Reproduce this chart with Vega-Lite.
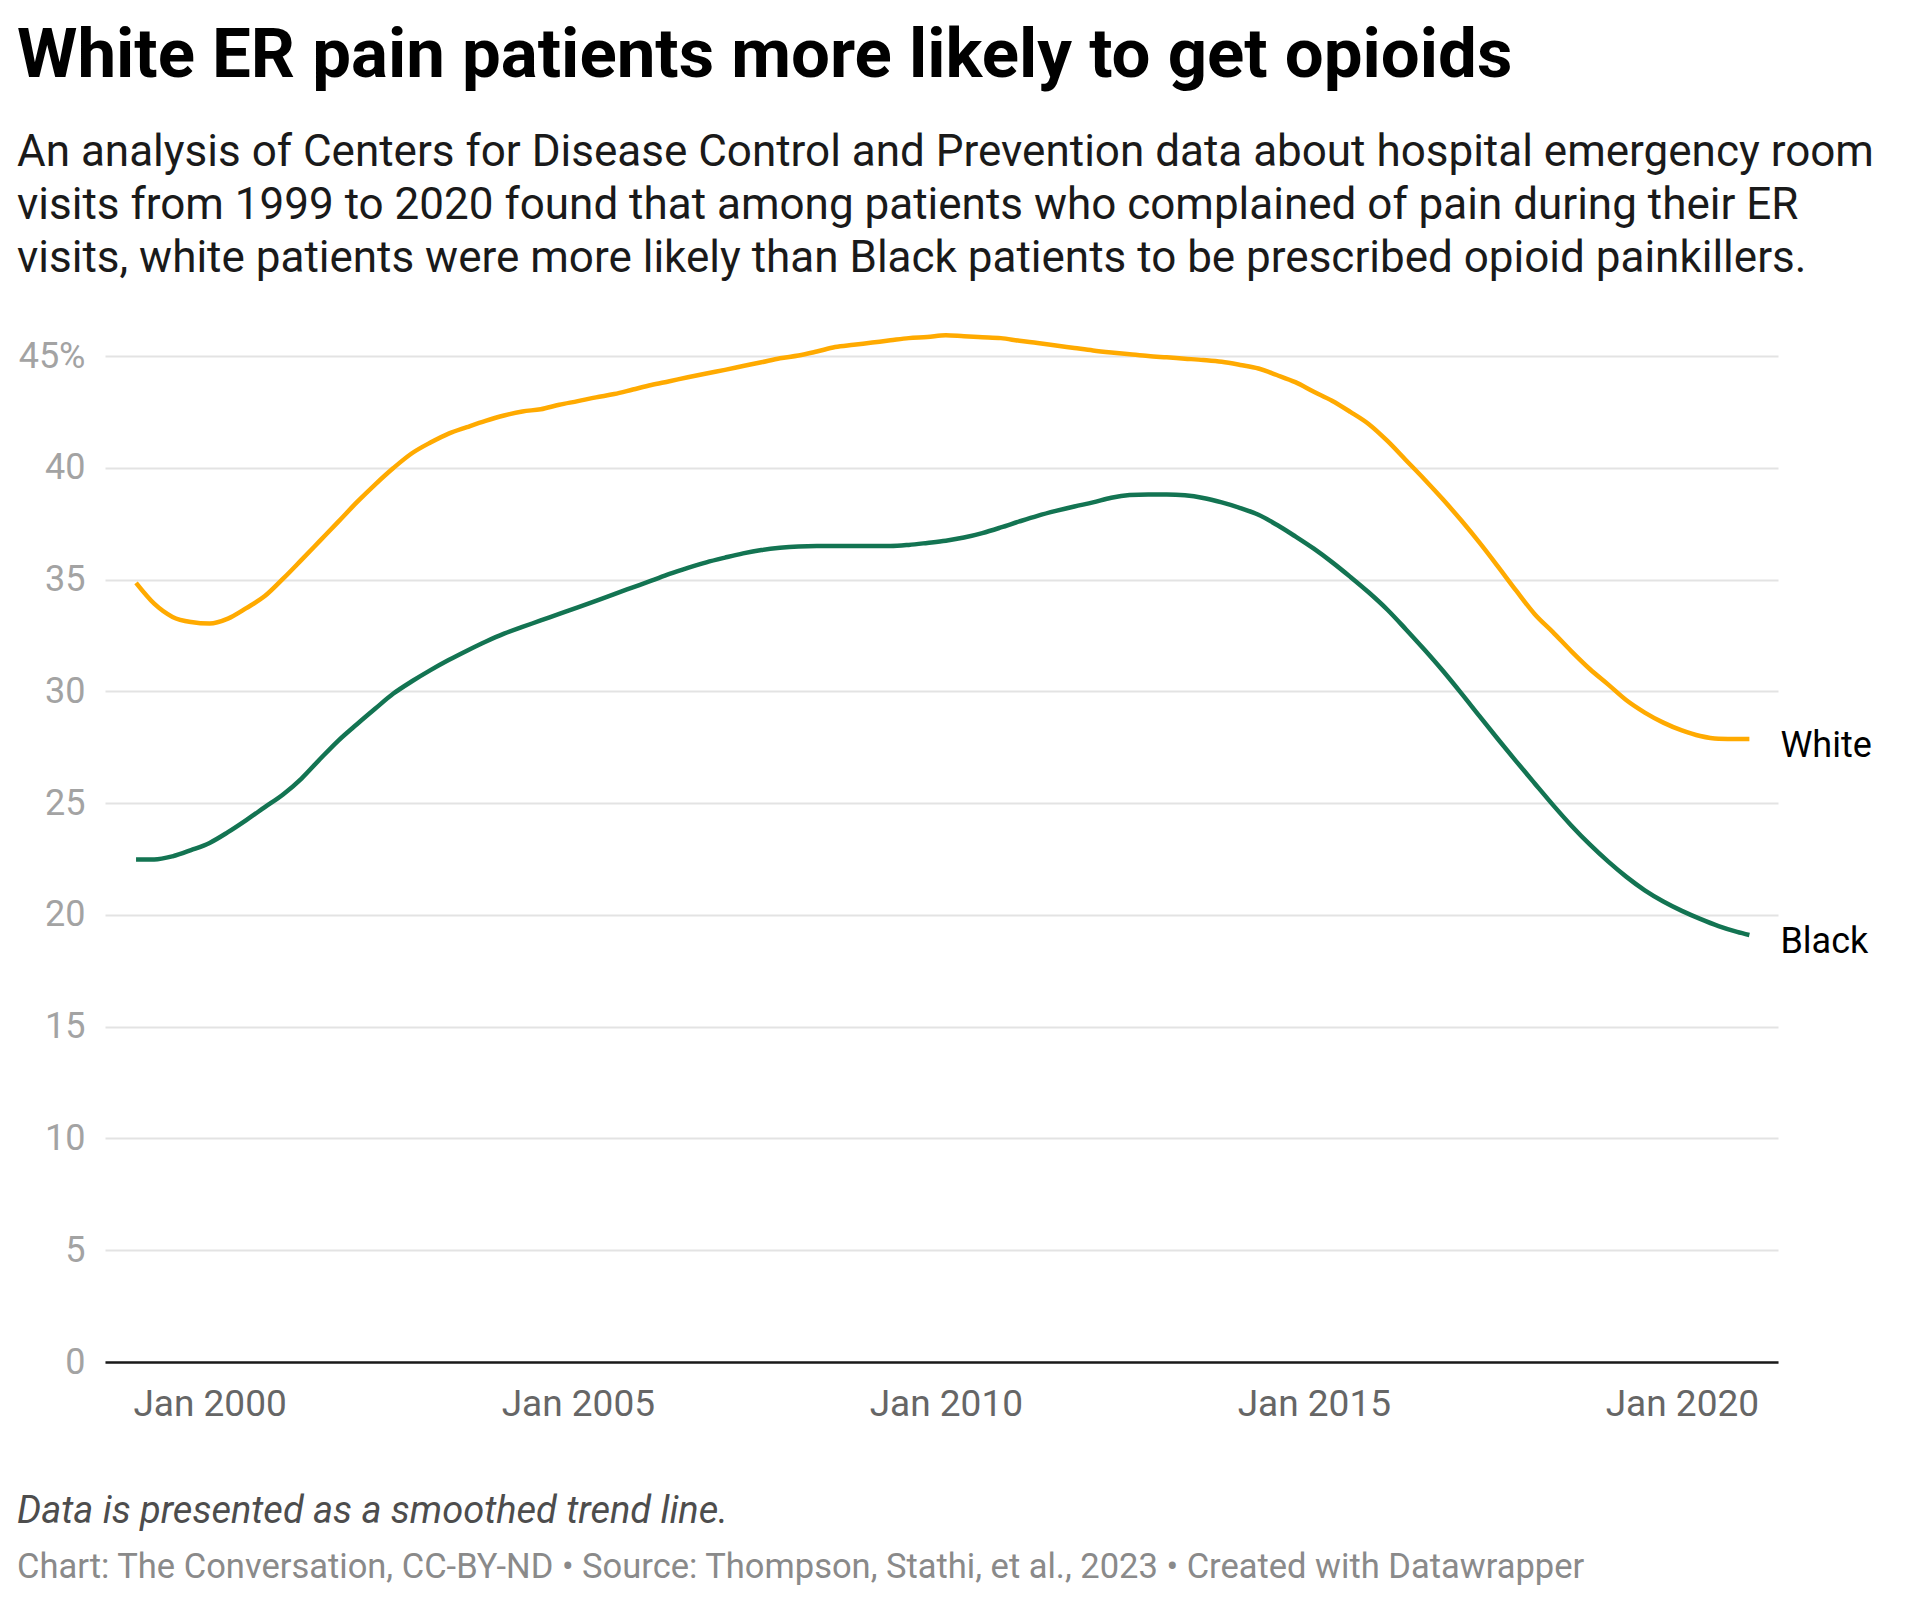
{
  "$schema": "https://vega.github.io/schema/vega-lite/v6.json",
  "background": "white",
  "padding": {"left": 17, "top": 22, "right": 0, "bottom": 0},
  "config": {"font": "Roboto", "view": {"stroke": null}},
  "title": {
    "text": "White ER pain patients more likely to get opioids",
    "subtitle": [
      "An analysis of Centers for Disease Control and Prevention data about hospital emergency room",
      "visits from 1999 to 2020 found that among patients who complained of pain during their ER",
      "visits, white patients were more likely than Black patients to be prescribed opioid painkillers."
    ],
    "anchor": "start",
    "font": "Roboto",
    "fontSize": 69,
    "fontWeight": "bold",
    "color": "#000000",
    "subtitleFont": "Roboto",
    "subtitleFontSize": 44,
    "subtitleColor": "#1a1a1a",
    "subtitleLineHeight": 53,
    "subtitlePadding": 40,
    "offset": 45
  },
  "spacing": 71,
  "vconcat": [
    {
      "width": 1673,
      "height": 1006,
      "data": {
        "format": {"parse": {"date": "date"}},
        "values": [
          {"date": "1999-01-01", "group": "White", "value": 34.85},
          {"date": "1999-04-01", "group": "White", "value": 33.92},
          {"date": "1999-07-01", "group": "White", "value": 33.33},
          {"date": "1999-10-01", "group": "White", "value": 33.1},
          {"date": "2000-01-01", "group": "White", "value": 33.03},
          {"date": "2000-04-01", "group": "White", "value": 33.25},
          {"date": "2000-07-01", "group": "White", "value": 33.72},
          {"date": "2000-10-01", "group": "White", "value": 34.26},
          {"date": "2001-01-01", "group": "White", "value": 35.05},
          {"date": "2001-04-01", "group": "White", "value": 35.88},
          {"date": "2001-07-01", "group": "White", "value": 36.73},
          {"date": "2001-10-01", "group": "White", "value": 37.59},
          {"date": "2002-01-01", "group": "White", "value": 38.46},
          {"date": "2002-04-01", "group": "White", "value": 39.25},
          {"date": "2002-07-01", "group": "White", "value": 39.99},
          {"date": "2002-10-01", "group": "White", "value": 40.65},
          {"date": "2003-01-01", "group": "White", "value": 41.13},
          {"date": "2003-04-01", "group": "White", "value": 41.53},
          {"date": "2003-07-01", "group": "White", "value": 41.82},
          {"date": "2003-10-01", "group": "White", "value": 42.1},
          {"date": "2004-01-01", "group": "White", "value": 42.34},
          {"date": "2004-04-01", "group": "White", "value": 42.52},
          {"date": "2004-07-01", "group": "White", "value": 42.62},
          {"date": "2004-10-01", "group": "White", "value": 42.82},
          {"date": "2005-01-01", "group": "White", "value": 42.98},
          {"date": "2005-04-01", "group": "White", "value": 43.15},
          {"date": "2005-07-01", "group": "White", "value": 43.3},
          {"date": "2005-10-01", "group": "White", "value": 43.5},
          {"date": "2006-01-01", "group": "White", "value": 43.7},
          {"date": "2006-04-01", "group": "White", "value": 43.87},
          {"date": "2006-07-01", "group": "White", "value": 44.05},
          {"date": "2006-10-01", "group": "White", "value": 44.22},
          {"date": "2007-01-01", "group": "White", "value": 44.38},
          {"date": "2007-04-01", "group": "White", "value": 44.55},
          {"date": "2007-07-01", "group": "White", "value": 44.72},
          {"date": "2007-10-01", "group": "White", "value": 44.9},
          {"date": "2008-01-01", "group": "White", "value": 45.02},
          {"date": "2008-04-01", "group": "White", "value": 45.2},
          {"date": "2008-07-01", "group": "White", "value": 45.4},
          {"date": "2008-10-01", "group": "White", "value": 45.5},
          {"date": "2009-01-01", "group": "White", "value": 45.6},
          {"date": "2009-04-01", "group": "White", "value": 45.7},
          {"date": "2009-07-01", "group": "White", "value": 45.8},
          {"date": "2009-10-01", "group": "White", "value": 45.85},
          {"date": "2010-01-01", "group": "White", "value": 45.93},
          {"date": "2010-04-01", "group": "White", "value": 45.88},
          {"date": "2010-07-01", "group": "White", "value": 45.84},
          {"date": "2010-10-01", "group": "White", "value": 45.8},
          {"date": "2011-01-01", "group": "White", "value": 45.68},
          {"date": "2011-04-01", "group": "White", "value": 45.58},
          {"date": "2011-07-01", "group": "White", "value": 45.47},
          {"date": "2011-10-01", "group": "White", "value": 45.36},
          {"date": "2012-01-01", "group": "White", "value": 45.25},
          {"date": "2012-04-01", "group": "White", "value": 45.16},
          {"date": "2012-07-01", "group": "White", "value": 45.08},
          {"date": "2012-10-01", "group": "White", "value": 45.0},
          {"date": "2013-01-01", "group": "White", "value": 44.94},
          {"date": "2013-04-01", "group": "White", "value": 44.88},
          {"date": "2013-07-01", "group": "White", "value": 44.82},
          {"date": "2013-10-01", "group": "White", "value": 44.74},
          {"date": "2014-01-01", "group": "White", "value": 44.6},
          {"date": "2014-04-01", "group": "White", "value": 44.44},
          {"date": "2014-07-01", "group": "White", "value": 44.15},
          {"date": "2014-10-01", "group": "White", "value": 43.83},
          {"date": "2015-01-01", "group": "White", "value": 43.4},
          {"date": "2015-04-01", "group": "White", "value": 43.0},
          {"date": "2015-07-01", "group": "White", "value": 42.5},
          {"date": "2015-10-01", "group": "White", "value": 41.95},
          {"date": "2016-01-01", "group": "White", "value": 41.2},
          {"date": "2016-04-01", "group": "White", "value": 40.35},
          {"date": "2016-07-01", "group": "White", "value": 39.5},
          {"date": "2016-10-01", "group": "White", "value": 38.6},
          {"date": "2017-01-01", "group": "White", "value": 37.65},
          {"date": "2017-04-01", "group": "White", "value": 36.66},
          {"date": "2017-07-01", "group": "White", "value": 35.6},
          {"date": "2017-10-01", "group": "White", "value": 34.5},
          {"date": "2018-01-01", "group": "White", "value": 33.45},
          {"date": "2018-04-01", "group": "White", "value": 32.65},
          {"date": "2018-07-01", "group": "White", "value": 31.8},
          {"date": "2018-10-01", "group": "White", "value": 31.0},
          {"date": "2019-01-01", "group": "White", "value": 30.3},
          {"date": "2019-04-01", "group": "White", "value": 29.6},
          {"date": "2019-07-01", "group": "White", "value": 29.05},
          {"date": "2019-10-01", "group": "White", "value": 28.6},
          {"date": "2020-01-01", "group": "White", "value": 28.25},
          {"date": "2020-04-01", "group": "White", "value": 28.0},
          {"date": "2020-07-01", "group": "White", "value": 27.88},
          {"date": "2020-10-01", "group": "White", "value": 27.87},
          {"date": "2020-12-01", "group": "White", "value": 27.87},
          {"date": "1999-01-01", "group": "Black", "value": 22.48},
          {"date": "1999-04-01", "group": "Black", "value": 22.48},
          {"date": "1999-07-01", "group": "Black", "value": 22.62},
          {"date": "1999-10-01", "group": "Black", "value": 22.9},
          {"date": "2000-01-01", "group": "Black", "value": 23.22},
          {"date": "2000-04-01", "group": "Black", "value": 23.7},
          {"date": "2000-07-01", "group": "Black", "value": 24.24},
          {"date": "2000-10-01", "group": "Black", "value": 24.82},
          {"date": "2001-01-01", "group": "Black", "value": 25.4},
          {"date": "2001-04-01", "group": "Black", "value": 26.1},
          {"date": "2001-07-01", "group": "Black", "value": 26.96},
          {"date": "2001-10-01", "group": "Black", "value": 27.8},
          {"date": "2002-01-01", "group": "Black", "value": 28.53},
          {"date": "2002-04-01", "group": "Black", "value": 29.22},
          {"date": "2002-07-01", "group": "Black", "value": 29.9},
          {"date": "2002-10-01", "group": "Black", "value": 30.45},
          {"date": "2003-01-01", "group": "Black", "value": 30.95},
          {"date": "2003-04-01", "group": "Black", "value": 31.4},
          {"date": "2003-07-01", "group": "Black", "value": 31.82},
          {"date": "2003-10-01", "group": "Black", "value": 32.22},
          {"date": "2004-01-01", "group": "Black", "value": 32.58},
          {"date": "2004-04-01", "group": "Black", "value": 32.88},
          {"date": "2004-07-01", "group": "Black", "value": 33.17},
          {"date": "2004-10-01", "group": "Black", "value": 33.47},
          {"date": "2005-01-01", "group": "Black", "value": 33.76},
          {"date": "2005-04-01", "group": "Black", "value": 34.05},
          {"date": "2005-07-01", "group": "Black", "value": 34.35},
          {"date": "2005-10-01", "group": "Black", "value": 34.65},
          {"date": "2006-01-01", "group": "Black", "value": 34.95},
          {"date": "2006-04-01", "group": "Black", "value": 35.25},
          {"date": "2006-07-01", "group": "Black", "value": 35.52},
          {"date": "2006-10-01", "group": "Black", "value": 35.77},
          {"date": "2007-01-01", "group": "Black", "value": 35.98},
          {"date": "2007-04-01", "group": "Black", "value": 36.17},
          {"date": "2007-07-01", "group": "Black", "value": 36.32},
          {"date": "2007-10-01", "group": "Black", "value": 36.42},
          {"date": "2008-01-01", "group": "Black", "value": 36.48},
          {"date": "2008-04-01", "group": "Black", "value": 36.5},
          {"date": "2008-07-01", "group": "Black", "value": 36.5},
          {"date": "2008-10-01", "group": "Black", "value": 36.5},
          {"date": "2009-01-01", "group": "Black", "value": 36.5},
          {"date": "2009-04-01", "group": "Black", "value": 36.5},
          {"date": "2009-07-01", "group": "Black", "value": 36.55},
          {"date": "2009-10-01", "group": "Black", "value": 36.64},
          {"date": "2010-01-01", "group": "Black", "value": 36.74},
          {"date": "2010-04-01", "group": "Black", "value": 36.88},
          {"date": "2010-07-01", "group": "Black", "value": 37.08},
          {"date": "2010-10-01", "group": "Black", "value": 37.33},
          {"date": "2011-01-01", "group": "Black", "value": 37.6},
          {"date": "2011-04-01", "group": "Black", "value": 37.85},
          {"date": "2011-07-01", "group": "Black", "value": 38.07},
          {"date": "2011-10-01", "group": "Black", "value": 38.27},
          {"date": "2012-01-01", "group": "Black", "value": 38.45},
          {"date": "2012-04-01", "group": "Black", "value": 38.66},
          {"date": "2012-07-01", "group": "Black", "value": 38.78},
          {"date": "2012-10-01", "group": "Black", "value": 38.81},
          {"date": "2013-01-01", "group": "Black", "value": 38.81},
          {"date": "2013-04-01", "group": "Black", "value": 38.77},
          {"date": "2013-07-01", "group": "Black", "value": 38.65},
          {"date": "2013-10-01", "group": "Black", "value": 38.45},
          {"date": "2014-01-01", "group": "Black", "value": 38.2},
          {"date": "2014-04-01", "group": "Black", "value": 37.9},
          {"date": "2014-07-01", "group": "Black", "value": 37.45},
          {"date": "2014-10-01", "group": "Black", "value": 36.93},
          {"date": "2015-01-01", "group": "Black", "value": 36.38},
          {"date": "2015-04-01", "group": "Black", "value": 35.78},
          {"date": "2015-07-01", "group": "Black", "value": 35.12},
          {"date": "2015-10-01", "group": "Black", "value": 34.42},
          {"date": "2016-01-01", "group": "Black", "value": 33.65},
          {"date": "2016-04-01", "group": "Black", "value": 32.78},
          {"date": "2016-07-01", "group": "Black", "value": 31.88},
          {"date": "2016-10-01", "group": "Black", "value": 30.93},
          {"date": "2017-01-01", "group": "Black", "value": 29.92},
          {"date": "2017-04-01", "group": "Black", "value": 28.9},
          {"date": "2017-07-01", "group": "Black", "value": 27.88},
          {"date": "2017-10-01", "group": "Black", "value": 26.87},
          {"date": "2018-01-01", "group": "Black", "value": 25.88},
          {"date": "2018-04-01", "group": "Black", "value": 24.92},
          {"date": "2018-07-01", "group": "Black", "value": 24.0},
          {"date": "2018-10-01", "group": "Black", "value": 23.15},
          {"date": "2019-01-01", "group": "Black", "value": 22.38},
          {"date": "2019-04-01", "group": "Black", "value": 21.7},
          {"date": "2019-07-01", "group": "Black", "value": 21.1},
          {"date": "2019-10-01", "group": "Black", "value": 20.6},
          {"date": "2020-01-01", "group": "Black", "value": 20.18},
          {"date": "2020-04-01", "group": "Black", "value": 19.82},
          {"date": "2020-07-01", "group": "Black", "value": 19.5},
          {"date": "2020-10-01", "group": "Black", "value": 19.24},
          {"date": "2020-12-01", "group": "Black", "value": 19.1}
        ]
      },
      "encoding": {
        "x": {
          "field": "date",
          "type": "temporal",
          "scale": {
            "type": "utc",
            "domain": [
              {"year": 1998, "month": 7, "date": 31, "utc": true},
              {"year": 2021, "month": 4, "date": 22, "utc": true}
            ]
          },
          "axis": {
            "title": null,
            "values": [
              {"year": 2000, "month": 1, "date": 1, "utc": true},
              {"year": 2005, "month": 1, "date": 1, "utc": true},
              {"year": 2010, "month": 1, "date": 1, "utc": true},
              {"year": 2015, "month": 1, "date": 1, "utc": true},
              {"year": 2020, "month": 1, "date": 1, "utc": true}
            ],
            "format": "%b %Y",
            "grid": false,
            "ticks": false,
            "domain": true,
            "domainColor": "#1a1a1a",
            "domainWidth": 2.5,
            "labelFont": "Roboto",
            "labelFontSize": 37,
            "labelColor": "#666666",
            "labelPadding": 24,
            "labelFlush": false
          }
        },
        "y": {
          "field": "value",
          "type": "quantitative",
          "scale": {"domain": [0, 45], "nice": false, "zero": true},
          "axis": {
            "title": null,
            "values": [0, 5, 10, 15, 20, 25, 30, 35, 40, 45],
            "labelExpr": "datum.value == 45 ? '45%' : datum.label",
            "grid": true,
            "gridColor": "#e3e3e3",
            "gridWidth": 2,
            "domain": false,
            "ticks": false,
            "labelFont": "Roboto",
            "labelFontSize": 36,
            "labelColor": "#a3a3a3",
            "labelPadding": 20
          }
        },
        "color": {
          "field": "group",
          "type": "nominal",
          "scale": {"domain": ["White", "Black"], "range": ["#ffaa00", "#137452"]},
          "legend": null
        }
      },
      "layer": [
        {
          "mark": {"type": "line", "strokeWidth": 4.5, "interpolate": "monotone", "clip": false}
        },
        {
          "transform": [{"filter": "utcyear(datum.date) == 2020 && utcmonth(datum.date) == 11"}],
          "mark": {
            "type": "text",
            "align": "left",
            "baseline": "middle",
            "dx": 31,
            "dy": 7,
            "fontSize": 36,
            "font": "Roboto",
            "color": "#000000"
          },
          "encoding": {
            "text": {"field": "group"},
            "color": {"value": "#000000"}
          }
        }
      ]
    },
    {
      "width": 1600,
      "height": 1,
      "data": {"values": [{}]},
      "mark": {"type": "point", "opacity": 0},
      "encoding": {},
      "title": {
        "text": "Data is presented as a smoothed trend line.",
        "subtitle": "Chart: The Conversation, CC-BY-ND • Source: Thompson, Stathi, et al., 2023 • Created with Datawrapper",
        "anchor": "start",
        "dx": -88,
        "font": "Roboto",
        "fontSize": 38,
        "fontStyle": "italic",
        "fontWeight": "normal",
        "color": "#4d4d4d",
        "subtitleFont": "Roboto",
        "subtitleFontSize": 34.5,
        "subtitleColor": "#8a8a8a",
        "subtitlePadding": 20,
        "offset": 0
      }
    }
  ]
}
